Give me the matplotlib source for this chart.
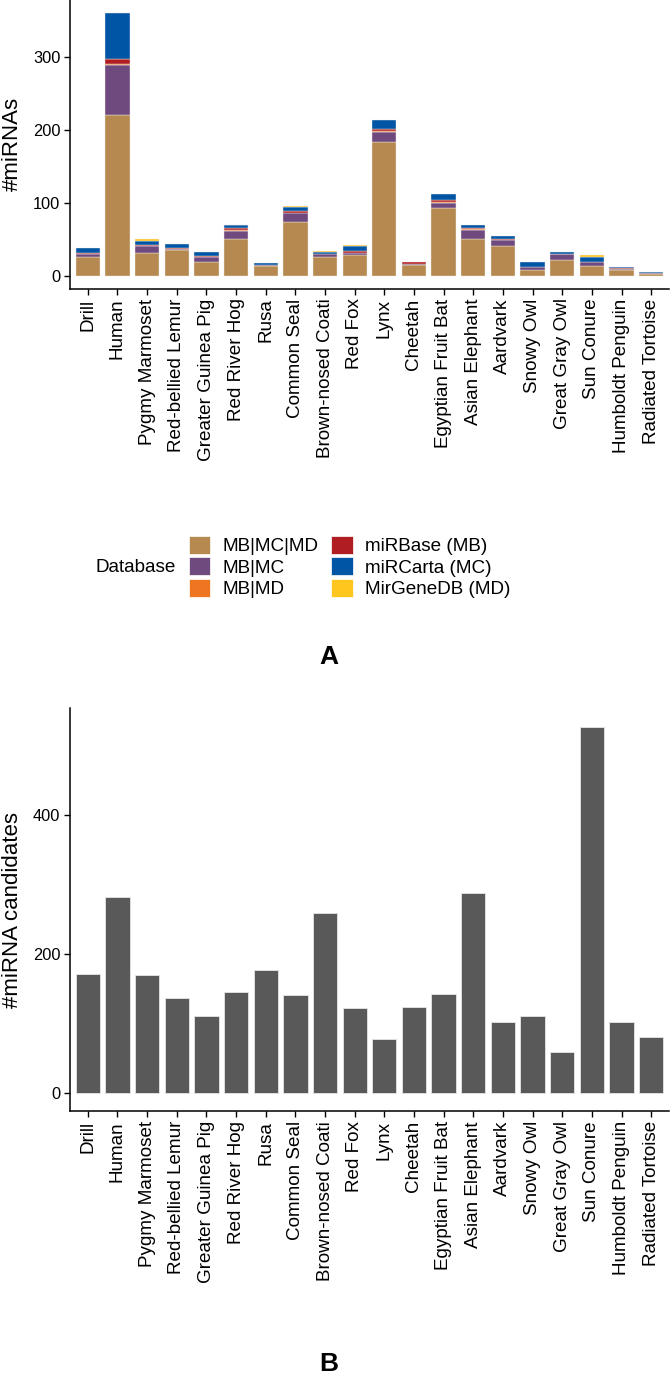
import matplotlib
matplotlib.use("Agg")
import matplotlib.pyplot as plt
from matplotlib.patches import Patch
import numpy as np

plt.rcParams['font.family'] = ['Liberation Sans', 'DejaVu Sans']

species = ["Drill", "Human", "Pygmy Marmoset", "Red-bellied Lemur", "Greater Guinea Pig",
           "Red River Hog", "Rusa", "Common Seal", "Brown-nosed Coati", "Red Fox", "Lynx",
           "Cheetah", "Egyptian Fruit Bat", "Asian Elephant", "Aardvark", "Snowy Owl",
           "Great Gray Owl", "Sun Conure", "Humboldt Penguin", "Radiated Tortoise"]

# stacked counts per database overlap (bottom to top)
mb_mc_md  = [25, 221, 31, 35, 19, 50, 13, 74, 25, 28, 184, 14, 93, 50, 41, 7, 21, 13, 7, 2]
mb_mc     = [5, 69, 9, 2, 7, 12, 1, 12, 4, 3, 14, 2, 7, 13, 8, 5, 8, 6, 2, 1]
mb_md     = [0, 1, 0, 0, 0, 1, 0, 0, 0, 0, 1, 0, 1, 1, 0, 0, 0, 0, 0, 0]
mirbase   = [1, 7, 2, 1, 1, 2, 0, 3, 0, 3, 2, 3, 3, 2, 1, 0, 1, 0, 2, 0]
mircarta  = [7, 63, 6, 6, 5, 4, 3, 5, 3, 7, 13, 0, 8, 3, 4, 6, 3, 7, 1, 2]
mirgenedb = [0, 0, 2, 0, 0, 1, 0, 2, 2, 1, 0, 0, 0, 0, 0, 0, 0, 2, 0, 0]

candidates = [171, 282, 170, 137, 111, 146, 177, 141, 259, 123, 78, 124, 142, 288,
              103, 111, 59, 528, 102, 80]

db_labels = ["MB|MC|MD", "MB|MC", "MB|MD", "miRBase (MB)", "miRCarta (MC)", "MirGeneDB (MD)"]
db_colors = ["#B5894F", "#6E4A7E", "#EE7623", "#B01E22", "#0055A5", "#FFC61E"]

W, H = 670, 1384
fig = plt.figure(figsize=(W / 100, H / 100), dpi=100)

def style_axis(ax):
    for s in ["top", "right"]:
        ax.spines[s].set_visible(False)
    for s in ["left", "bottom"]:
        ax.spines[s].set_linewidth(1.1)
    ax.tick_params(axis="both", length=4.5, width=1.0, colors="black", pad=2.5)
    ax.tick_params(axis="x", labelsize=13.6)
    ax.tick_params(axis="y", labelsize=11.8)
    ax.set_xticks(np.arange(len(species)))
    ax.set_xticklabels(species, rotation=90)
    ax.set_xlim(-0.6, len(species) - 0.4)

# panel A
axA = fig.add_axes([70 / W, 1 - 288.7 / H, 599 / W, 288.7 / H])
x = np.arange(len(species))
bottom = np.zeros(len(species))
for vals, col in zip([mb_mc_md, mb_mc, mb_md, mirbase, mircarta, mirgenedb], db_colors):
    lws = [0.3 if v > 0 else 0 for v in vals]
    axA.bar(x, vals, bottom=bottom, width=0.82, color=col, edgecolor="#f3ece4", linewidth=lws)
    bottom += np.array(vals)
top = bottom.max()
axA.set_ylim(-top * 0.05, top * 1.05)
axA.set_yticks([0, 100, 200, 300])
style_axis(axA)
axA.set_ylabel("#miRNAs", fontsize=16, labelpad=7)

handles = [Patch(facecolor=c, edgecolor="white", linewidth=0.5) for c in db_colors]
fig.legend(handles, db_labels, loc="center left", bbox_to_anchor=(189 / W, 1 - 567 / H),
           ncol=2, frameon=False, fontsize=13.6, handlelength=1.13, handleheight=1.1,
           labelspacing=0.12, handletextpad=0.63, columnspacing=0.69, borderpad=0, borderaxespad=0)
fig.text(176 / W, 1 - 567 / H, "Database", fontsize=13.6, ha="right", va="center")
fig.text(329 / W, 1 - 657 / H, "A", fontsize=19, fontweight="bold", ha="center", va="center")

# panel B
axB = fig.add_axes([70 / W, 1 - 1111.3 / H, 599 / W, (1111.3 - 708.3) / H])
axB.bar(x, candidates, width=0.82, color="#595959", edgecolor="#e6e6e6", linewidth=0.6)
cmax = max(candidates)
axB.set_ylim(-cmax * 0.05, cmax * 1.05)
axB.set_yticks([0, 200, 400])
style_axis(axB)
axB.set_ylabel("#miRNA candidates", fontsize=16, labelpad=7)
fig.text(329 / W, 1 - 1364 / H, "B", fontsize=19, fontweight="bold", ha="center", va="center")

fig.savefig("out.png", dpi=100)
